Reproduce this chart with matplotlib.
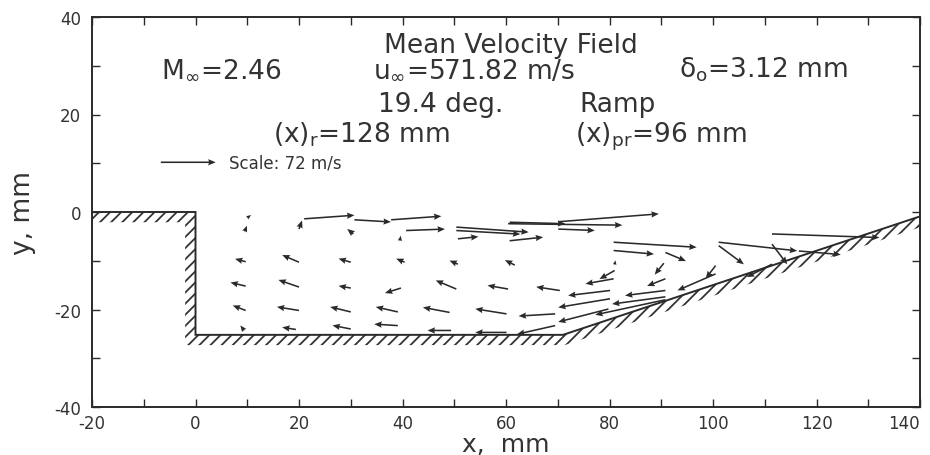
import numpy as np
import matplotlib
matplotlib.use("Agg")
import matplotlib.pyplot as plt
from matplotlib.patches import Polygon

plt.rcParams['font.family'] = ['DejaVu Sans']
plt.rcParams['axes.unicode_minus'] = False
plt.rcParams['hatch.linewidth'] = 1.3
plt.rcParams['hatch.color'] = '#333333'

# ---------------- data (mm, m/s) ----------------
# shear layer / upper region
xs_top = [21.0, 30.7, 37.8, 40.7, 50.4, 50.4, 50.7, 60.4, 60.7, 60.7, 70.1, 70.1]
ys_top = [-1.4, -1.6, -1.6, -3.8, -3.1, -3.8, -5.5, -2.4, -2.1, -5.9, -3.5, -2.0]
us_top = [66, 48, 66, 51, 95, 84, 27, 150, 73, 44, 48, 132]
vs_top = [5, -3, 5, 2, -7, -5, 3, -2, -2, 5, -2, 11]

# ramp region
xs_ramp = [80.8, 80.8, 90.8, 101.1, 101.1, 111.4, 111.4, 116.6, 111.4, 90.5, 90.8,
           100.5, 100.5, 81.0, 81.0, 80.8, 80.1, 90.8, 80.1, 90.8, 90.8, 79.8]
ys_ramp = [-6.2, -7.9, -8.3, -6.2, -6.9, -6.6, -4.5, -8.0, -10.7, -10.5, -13.7,
           -11.0, -12.7, -12.0, -10.8, -13.7, -16.1, -16.1, -17.8, -17.4, -18.0, -19.9]
us_ramp = [109, 53, 27, 103, 33, 20, 141, 55, -33, -12, -24,
           -13, -50, -20, 1, -37, -55, -53, -68, -70, -92, -66]
vs_ramp = [-7, -5, -12, -12, -26, -28, -5, -5, -18, -16, -10,
           -18, -23, -12, 6, -7, -7, -7, -12, -10, -21, -18]

# recirculation region
xs_rec = [10.0, 9.5, 9.7, 9.7, 9.7, 9.4,
          20.0, 20.0, 20.0, 20.0, 19.4,
          30.5, 30.0, 30.0, 30.0, 30.0,
          39.5, 40.4, 39.7, 39.1, 39.1,
          50.7, 50.4, 49.1, 49.4,
          61.7, 60.4, 60.1, 60.1,
          70.4, 69.5, 69.5]
ys_rec = [-1.2, -4.0, -10.2, -15.2, -20.2, -24.3,
          -3.5, -10.3, -15.4, -20.2, -24.1,
          -4.5, -10.3, -15.6, -20.5, -24.0,
          -5.9, -10.3, -15.6, -20.5, -23.3,
          -10.7, -15.8, -20.6, -24.3,
          -10.9, -15.8, -20.9, -24.7,
          -16.1, -20.9, -23.3]
us_rec = [5, 3, -14, -20, -17, -5,
          4, -22, -27, -29, -18,
          -8, -16, -16, -27, -24,
          1, -11, -21, -29, -31,
          -11, -27, -35, -31,
          -13, -27, -41, -41,
          -31, -48, -50]
vs_rec = [4, 8, 4, 5, 7, 7,
          12, 10, 10, 5, 3,
          7, 5, 3, 7, 5,
          7, 5, -7, 7, 2,
          5, 12, 7, 0,
          7, 5, 7, 0,
          5, -3, -12]

scale_speed = 72          # m/s, reference arrow
xticks = [-20, 0, 20, 40, 60, 80, 100, 120, 140]
yticks = [-40, -20, 0, 20, 40]

# geometry of the model
ramp_angle = 19.4         # deg
floor_y = -25.2
ramp_x0 = 71.0

# ---------------- figure ----------------
fig = plt.figure(figsize=(9.3, 4.56), dpi=100)
ax = fig.add_axes([92 / 930, 1 - 408 / 456, 828 / 930, 390 / 456])
ax.set_xlim(-20, 140)
ax.set_ylim(-40, 40)

ink = '#2a2a2a'

# wall
ta = np.tan(np.radians(ramp_angle))
y_end = floor_y + (140 - ramp_x0) * ta
wx = [-20, 0, 0, ramp_x0, 140]
wy = [0, 0, floor_y, floor_y, y_end]
t = 2.1
tx = 2.0
d = t / np.cos(np.radians(ramp_angle))
strip = [(-20, 0), (0, 0), (0, floor_y), (ramp_x0, floor_y), (140, y_end),
         (140, y_end - d), (ramp_x0 + (d - t) / ta, floor_y - t),
         (-tx, floor_y - t), (-tx, -t), (-20, -t)]
ax.add_patch(Polygon(strip, closed=True, fill=False, hatch='///',
                     edgecolor='#333333', linewidth=0))
ax.plot(wx, wy, color=ink, lw=1.4, solid_joinstyle='miter')

# vectors
X = np.array(xs_top + xs_ramp + xs_rec)
Y = np.array(ys_top + ys_ramp + ys_rec)
U = np.array(us_top + us_ramp + us_rec, dtype=float)
V = np.array(vs_top + vs_ramp + vs_rec, dtype=float)
mm_per_ms = 10.6 / scale_speed
q = ax.quiver(X, Y, U, V, angles='xy', scale_units='xy', scale=1 / mm_per_ms,
              pivot='tail', width=0.0019, headwidth=4, headlength=4.8,
              headaxislength=4.3, color=ink)
ax.quiverkey(q, X=3.9, Y=10.2, U=scale_speed, label='Scale: 72 m/s',
             labelpos='E', coordinates='data', labelsep=0.13,
             fontproperties={'size': 12}, labelcolor='#333333')

# annotations
tc = '#333333'
fs = 19
ax.text(61.0, 32.8, 'Mean Velocity Field', ha='center', va='baseline', fontsize=fs, color=tc)
ax.text(4.9, 27.7, r'M$_{\infty}$=2.46', ha='center', va='baseline', fontsize=fs, color=tc)
ax.text(53.8, 27.7, r'u$_{\infty}$=571.82 m/s', ha='center', va='baseline', fontsize=fs, color=tc)
ax.text(109.7, 27.7, r'δ$_{\rm o}$=3.12 mm', ha='center', va='baseline', fontsize=fs, color=tc)
ax.text(47.4, 20.7, '19.4 deg.', ha='center', va='baseline', fontsize=fs, color=tc)
ax.text(81.5, 20.7, 'Ramp', ha='center', va='baseline', fontsize=fs, color=tc)
ax.text(32.1, 14.5, r'(x)$_{\rm r}$=128 mm', ha='center', va='baseline', fontsize=fs, color=tc)
ax.text(89.9, 14.5, r'(x)$_{\rm pr}$=96 mm', ha='center', va='baseline', fontsize=fs, color=tc)

# axes styling
ax.set_xticks(xticks)
ax.set_yticks(yticks)
ax.set_xticklabels([str(v) for v in xticks])
ax.set_yticklabels([str(v) for v in yticks])
ax.set_xticks(np.arange(-20, 141, 10), minor=True)
ax.set_yticks(np.arange(-40, 41, 10), minor=True)
ax.tick_params(which='both', direction='in', top=True, right=True, length=6,
               width=1.0, color=ink)
ax.tick_params(axis='x', which='major', pad=5, labelsize=12, labelcolor=tc)
ax.tick_params(axis='y', which='major', pad=8, labelsize=12, labelcolor=tc)
ax.get_xticklabels()[-1].set_horizontalalignment('right')
for s in ax.spines.values():
    s.set_linewidth(1.4)
    s.set_color(ink)

ax.set_xlabel('x,  mm', fontsize=18, color=tc, va='baseline')
ax.xaxis.set_label_coords(0.5, -0.114)
ax.set_ylabel('y, mm', fontsize=19, color=tc)
ax.yaxis.set_label_coords(-0.068, 0.5)

fig.savefig('out.png', dpi=100)
